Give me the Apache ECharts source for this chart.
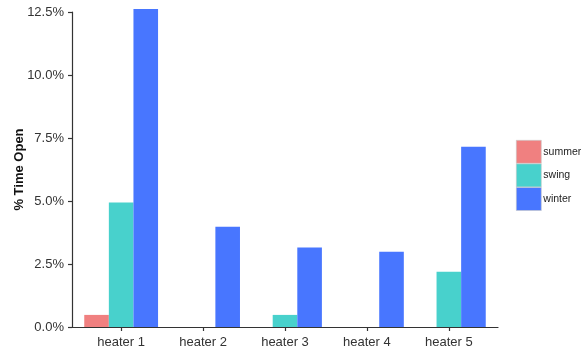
<!DOCTYPE html>
<html>
<head>
<meta charset="utf-8">
<script src="https://cdn.jsdelivr.net/npm/echarts@6/dist/echarts.min.js"></script>
<style>
html,body{margin:0;padding:0;background:#fff;}
#chart{width:581px;height:354px;}
</style>
</head>
<body>
<div id="chart"></div>
<script>
const categories = ['heater 1', 'heater 2', 'heater 3', 'heater 4', 'heater 5'];
const summer = [0.48, 0, 0, 0, 0];
const swing = [4.94, 0, 0.48, 0, 2.19];
const winter = [12.62, 3.98, 3.15, 2.99, 7.15];
const seasonNames = ['summer', 'swing', 'winter'];
const seasonColors = ['#F08080', '#48D1CC', '#4876FF'];
const yTicks = [0, 2.5, 5, 7.5, 10, 12.5];

const seriesValues = [summer, swing, winter];
const positions = categories.map((c, i) => i + 1);

const chart = echarts.init(document.getElementById('chart'), null, {renderer: 'canvas'});
const font = 'Liberation Sans, Arial, Helvetica, sans-serif';

chart.setOption({
  animation: false,
  backgroundColor: '#fff',
  grid: {left: 72, right: 83, top: 12, bottom: 27, containLabel: false, outerBoundsMode: 'none'},
  legend: {
    orient: 'vertical',
    left: 516,
    top: 140,
    padding: 0,
    itemWidth: 25,
    itemHeight: 23,
    itemGap: 0,
    icon: 'rect',
    data: seasonNames,
    textStyle: {fontFamily: font, fontSize: 10.5, color: '#222', padding: [0, 0, 0, -3], overflow: 'none'},
    itemStyle: {borderColor: '#c8c8c8', borderWidth: 0.6}
  },
  xAxis: {
    type: 'value',
    min: 0.4,
    max: 5.6,
    splitLine: {show: false},
    axisLine: {show: true, lineStyle: {color: '#333', width: 1.2}},
    axisTick: {show: true, length: 4, customValues: positions, lineStyle: {color: '#333', width: 1.2}},
    axisLabel: {
      customValues: positions,
      formatter: v => categories[Math.round(v) - 1] || '',
      fontFamily: font, fontSize: 13, color: '#333', margin: 9
    }
  },
  yAxis: {
    type: 'value',
    min: 0,
    max: 12.5,
    interval: 2.5,
    name: '% Time Open',
    nameLocation: 'middle',
    nameGap: 46,
    nameMoveOverlap: false,
    nameTextStyle: {fontFamily: font, fontSize: 13, fontWeight: 'bold', color: '#111'},
    splitLine: {show: false},
    axisLine: {show: true, lineStyle: {color: '#333', width: 1.2}},
    axisTick: {show: true, length: 4, lineStyle: {color: '#333', width: 1.2}},
    axisLabel: {
      customValues: yTicks,
      formatter: v => v.toFixed(1) + '%',
      fontFamily: font, fontSize: 13, color: '#333', margin: 8
    }
  },
  series: seasonNames.map((name, si) => ({
    name: name,
    type: 'bar',
    barWidth: 24.6,
    barGap: '0%',
    clip: false,
    itemStyle: {color: seasonColors[si]},
    emphasis: {disabled: true},
    data: seriesValues[si].map((v, i) => [positions[i], v])
  }))
});
</script>
</body>
</html>
